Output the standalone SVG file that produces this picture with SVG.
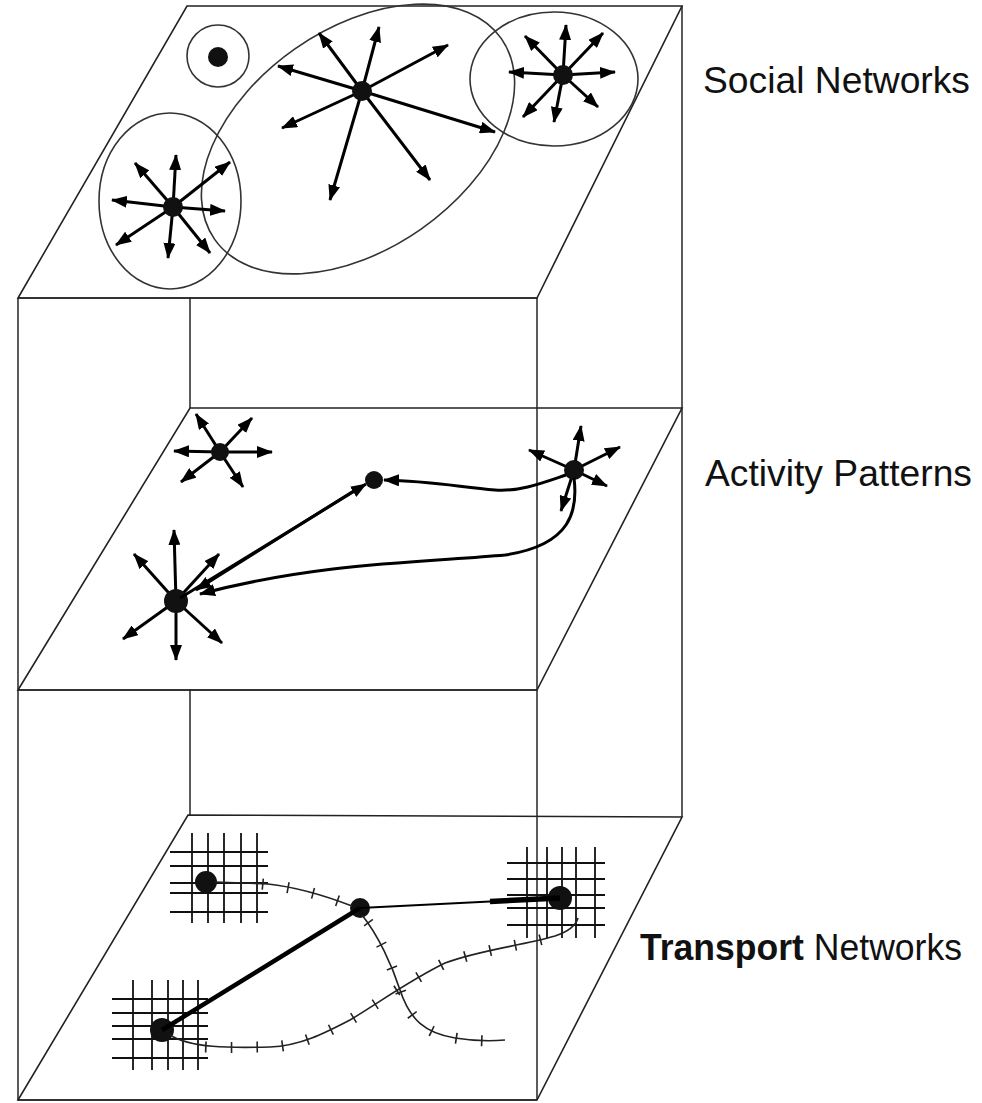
<svg xmlns="http://www.w3.org/2000/svg" width="982" height="1103" viewBox="0 0 982 1103">
<style>
.frame{stroke:#333;stroke-width:1.6;fill:none}
.plane{stroke:#222;stroke-width:1.6;fill:none}
.ring{stroke:#333;stroke-width:1.6;fill:none}
.arr{stroke:#000;stroke-width:3;fill:none;marker-end:url(#ah)}
.dot{fill:#111}
.grid line{stroke:#111;stroke-width:1.8}
.rail{stroke:#222;stroke-width:1.6;fill:none}
.tick{stroke:#222;stroke-width:11;fill:none;stroke-dasharray:1.6 24}
.lbl{font-family:"Liberation Sans",Arial,sans-serif;font-size:36px;fill:#111}
</style>
<defs>
<marker id="ah" viewBox="0 0 16 12" refX="15" refY="6" markerWidth="16" markerHeight="12" markerUnits="userSpaceOnUse" orient="auto">
<path d="M0,0 L16,6 L0,12 z" fill="#000"/>
</marker>
</defs>
<rect width="982" height="1103" fill="#fff"/>
<g id="frame">
<line class="frame" x1="18" y1="298" x2="18" y2="1100"/>
<line class="frame" x1="537" y1="298" x2="537" y2="1100"/>
<line class="frame" x1="682" y1="6" x2="682" y2="817"/>
<line class="frame" x1="190" y1="298" x2="190" y2="408"/>
<line class="frame" x1="190" y1="690" x2="190" y2="815"/>
<line class="frame" x1="18" y1="298" x2="537" y2="298"/>
<line class="frame" x1="18" y1="690" x2="537" y2="690"/>
<line class="frame" x1="18" y1="1100" x2="537" y2="1100"/>
</g>
<g id="plane-social">
<polygon class="plane" points="187,6 682,6 537,298 18,298"/>
</g>
<g id="plane-activity">
<polygon class="plane" points="190,408 682,408 537,690 18,690"/>
</g>
<g id="plane-transport">
<polygon class="plane" points="188,815 682,817 537,1100 18,1100"/>
</g>
<g id="social-groups">
<ellipse class="ring" cx="218" cy="56" rx="31" ry="31"/>
<ellipse class="ring" cx="170" cy="201" rx="71" ry="88"/>
<ellipse class="ring" cx="358" cy="139" rx="175" ry="110" transform="rotate(-35 358 139)"/>
<ellipse class="ring" cx="554" cy="79" rx="84" ry="67"/>
</g>
<g id="node-isolated">
<circle class="dot" cx="218" cy="57" r="10"/>
</g>
<g id="node-social-left">
<line class="arr" x1="173" y1="207" x2="176" y2="155"/>
<line class="arr" x1="173" y1="207" x2="135" y2="163"/>
<line class="arr" x1="173" y1="207" x2="112" y2="200"/>
<line class="arr" x1="173" y1="207" x2="116" y2="245"/>
<line class="arr" x1="173" y1="207" x2="168" y2="258"/>
<line class="arr" x1="173" y1="207" x2="210" y2="253"/>
<line class="arr" x1="173" y1="207" x2="225" y2="211"/>
<line class="arr" x1="173" y1="207" x2="230" y2="162"/>
<circle class="dot" cx="173" cy="207" r="10"/>
</g>
<g id="node-social-center">
<line class="arr" x1="362" y1="91" x2="319" y2="33"/>
<line class="arr" x1="362" y1="91" x2="278" y2="66"/>
<line class="arr" x1="362" y1="91" x2="282" y2="128"/>
<line class="arr" x1="362" y1="91" x2="330" y2="200"/>
<line class="arr" x1="362" y1="91" x2="379" y2="27"/>
<line class="arr" x1="362" y1="91" x2="448" y2="45"/>
<line class="arr" x1="362" y1="91" x2="430" y2="180"/>
<line class="arr" x1="362" y1="91" x2="495" y2="132"/>
<circle class="dot" cx="362" cy="91" r="10"/>
</g>
<g id="node-social-right">
<line class="arr" x1="563" y1="75" x2="509" y2="72"/>
<line class="arr" x1="563" y1="75" x2="566" y2="25"/>
<line class="arr" x1="563" y1="75" x2="603" y2="33"/>
<line class="arr" x1="563" y1="75" x2="525" y2="36"/>
<line class="arr" x1="563" y1="75" x2="615" y2="72"/>
<line class="arr" x1="563" y1="75" x2="598" y2="107"/>
<line class="arr" x1="563" y1="75" x2="554" y2="122"/>
<line class="arr" x1="563" y1="75" x2="523" y2="117"/>
<circle class="dot" cx="563" cy="75" r="10"/>
</g>
<g id="node-activity-small">
<line class="arr" x1="220" y1="452" x2="174" y2="451"/>
<line class="arr" x1="220" y1="452" x2="272" y2="452"/>
<line class="arr" x1="220" y1="452" x2="196" y2="414"/>
<line class="arr" x1="220" y1="452" x2="252" y2="418"/>
<line class="arr" x1="220" y1="452" x2="181" y2="482"/>
<line class="arr" x1="220" y1="452" x2="243" y2="487"/>
<circle class="dot" cx="220" cy="452" r="9"/>
</g>
<g id="node-activity-right">
<line class="arr" x1="574" y1="470" x2="581" y2="426"/>
<line class="arr" x1="574" y1="470" x2="529" y2="450"/>
<line class="arr" x1="574" y1="470" x2="620" y2="447"/>
<line class="arr" x1="574" y1="470" x2="607" y2="486"/>
<line class="arr" x1="574" y1="470" x2="561" y2="511"/>
<circle class="dot" cx="574" cy="470" r="10"/>
</g>
<g id="node-activity-mid">
<circle class="dot" cx="374" cy="480" r="9"/>
</g>
<g id="node-activity-home">
<line class="arr" x1="176" y1="601" x2="174" y2="530"/>
<line class="arr" x1="176" y1="601" x2="134" y2="554"/>
<line class="arr" x1="176" y1="601" x2="123" y2="639"/>
<line class="arr" x1="176" y1="601" x2="176" y2="660"/>
<line class="arr" x1="176" y1="601" x2="222" y2="643"/>
<line class="arr" x1="176" y1="601" x2="219" y2="554"/>
<circle class="dot" cx="176" cy="601" r="12"/>
</g>
<g id="grid-1" class="grid">
<line x1="192" y1="833" x2="192" y2="923"/><line x1="208" y1="833" x2="208" y2="923"/><line x1="224" y1="833" x2="224" y2="923"/><line x1="241" y1="833" x2="241" y2="923"/><line x1="257" y1="833" x2="257" y2="923"/>
<line x1="170" y1="852" x2="268" y2="852"/><line x1="170" y1="866" x2="268" y2="866"/><line x1="170" y1="883" x2="268" y2="883"/><line x1="170" y1="893" x2="268" y2="893"/><line x1="170" y1="912" x2="268" y2="912"/>
<circle class="dot" cx="206" cy="882" r="11"/>
</g>
<g id="grid-2" class="grid">
<line x1="133" y1="980" x2="133" y2="1070"/><line x1="152" y1="980" x2="152" y2="1070"/><line x1="168" y1="980" x2="168" y2="1070"/><line x1="183" y1="980" x2="183" y2="1070"/><line x1="198" y1="980" x2="198" y2="1070"/>
<line x1="112" y1="999" x2="208" y2="999"/><line x1="112" y1="1013" x2="208" y2="1013"/><line x1="112" y1="1026" x2="208" y2="1026"/><line x1="112" y1="1039" x2="208" y2="1039"/><line x1="112" y1="1058" x2="208" y2="1058"/>
<circle class="dot" cx="162" cy="1030" r="12"/>
</g>
<g id="grid-3" class="grid">
<line x1="527" y1="847" x2="527" y2="938"/><line x1="547" y1="847" x2="547" y2="938"/><line x1="562" y1="847" x2="562" y2="938"/><line x1="576" y1="847" x2="576" y2="938"/><line x1="595" y1="847" x2="595" y2="938"/>
<line x1="507" y1="863" x2="605" y2="863"/><line x1="507" y1="879" x2="605" y2="879"/><line x1="507" y1="895" x2="605" y2="895"/><line x1="507" y1="908" x2="605" y2="908"/><line x1="507" y1="925" x2="605" y2="925"/>
<circle class="dot" cx="560" cy="898" r="12"/>
</g>
<g id="node-transport-hub">
<circle class="dot" cx="360" cy="908" r="10"/>
</g>
<g id="connectors">
<line class="arr" x1="180" y1="598" x2="366" y2="484"/>
<line class="arr" x1="360" y1="487" x2="196" y2="590"/>
<path class="arr" d="M566,475 C545,482 520,492 495,490 C460,487 430,481 384,480"/>
<path class="arr" d="M574,478 C578,510 572,545 505,555 C430,562 320,562 200,594"/>
<line stroke="#000" stroke-width="4.5" x1="360" y1="908" x2="162" y2="1030"/>
<line stroke="#000" stroke-width="2.2" x1="360" y1="908" x2="560" y2="898"/>
<line stroke="#000" stroke-width="5.5" x1="490" y1="901.5" x2="560" y2="898"/>
<path class="rail" d="M215,882 L268,884 Q305,888 352,906"/>
<path class="tick" d="M262,884 Q305,888 352,906"/>
<path class="rail" d="M362,915 C378,935 392,965 400,990 C410,1020 425,1033 455,1038 C480,1042 495,1041 505,1040"/>
<path class="tick" d="M368,922 C378,935 392,965 400,990 C410,1020 425,1033 455,1038 C480,1042 495,1041 505,1040"/>
<path class="rail" d="M170,1035 C190,1048 230,1048 270,1047 C300,1046 325,1033 350,1020 C380,1002 410,980 445,963 C480,950 520,946 555,936 C570,931 576,925 578,918"/>
<path class="tick" d="M205,1047 C230,1048 250,1047 270,1047 C300,1046 325,1033 350,1020 C380,1002 410,980 445,963 C480,950 520,946 555,936"/>
</g>
<g id="labels">
<text class="lbl" x="703" y="93" textLength="267" lengthAdjust="spacingAndGlyphs">Social Networks</text>
<text class="lbl" x="705" y="486" textLength="267" lengthAdjust="spacingAndGlyphs">Activity Patterns</text>
<text class="lbl" x="640" y="960" textLength="322" lengthAdjust="spacingAndGlyphs"><tspan font-weight="bold">Transport</tspan> Networks</text>
</g>
</svg>
